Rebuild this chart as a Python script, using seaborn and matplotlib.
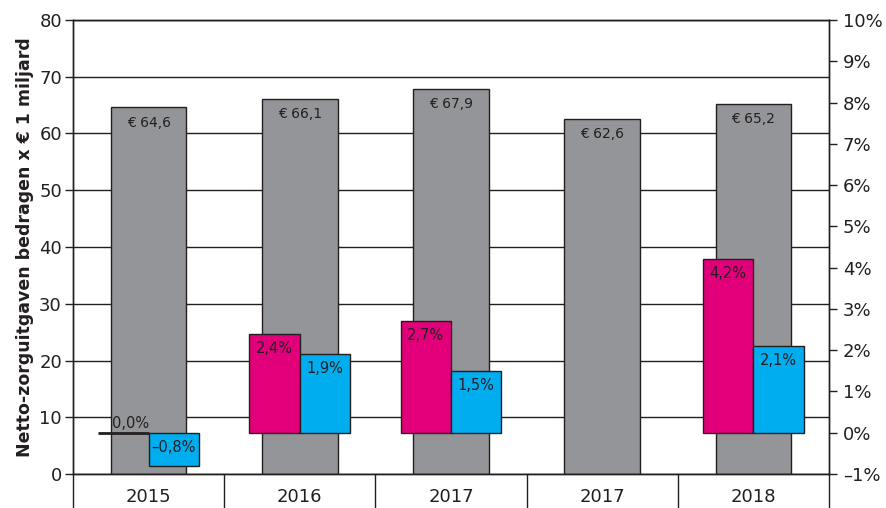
# Netto-zorguitgaven met groeipercentages, nagebouwd met seaborn

import numpy as np
import pandas as pd
import seaborn as sns
import matplotlib.pyplot as plt
from matplotlib.transforms import blended_transform_factory

# data uit de grafiek
jaren = ["2015", "2016", "2017", "2017", "2018"]
uitgaven = [64.6, 66.1, 67.9, 62.6, 65.2]
groei_roze = [0.0, 2.4, 2.7, np.nan, 4.2]
groei_blauw = [-0.8, 1.9, 1.5, np.nan, 2.1]
links_ticks = list(range(0, 81, 10))
rechts_ticks = list(range(-1, 11))

GRIJS = "#939598"
ROZE = "#e2007a"
BLAUW = "#00aeef"
INKT = "#231f20"


def nl_getal(v, teken=""):
    return (f"{v:.1f}" + teken).replace(".", ",").replace("-", "\u2013")


sns.set_style("ticks")
plt.rcParams["font.family"] = ["DejaVu Sans"]

fig = plt.figure(figsize=(8.87, 5.08), dpi=100)
ax = fig.add_axes([73 / 887, 34 / 508, 756 / 887, 454 / 508])

pos = list(range(len(jaren)))
df_tot = pd.DataFrame({"pos": pos, "uitgaven": uitgaven})
sns.barplot(data=df_tot, x="pos", y="uitgaven", order=pos, color=GRIJS, width=0.5,
            edgecolor=INKT, linewidth=1, saturation=1, errorbar=None, ax=ax)

# groeicijfers op de rechter as
ax2 = ax.twinx()
df_groei = pd.DataFrame({"pos": pos * 2,
                         "groei": groei_roze + groei_blauw,
                         "reeks": ["roze"] * len(pos) + ["blauw"] * len(pos)})
sns.barplot(data=df_groei, x="pos", y="groei", hue="reeks", order=pos,
            hue_order=["roze", "blauw"], palette=[ROZE, BLAUW], width=2 / 3,
            edgecolor=INKT, linewidth=1, saturation=1, errorbar=None,
            legend=False, ax=ax2)

# een balk van 0,0% wordt als dikke lijn getekend
for patch in ax2.patches:
    if patch.get_height() == 0:
        patch.set_linewidth(2)

ax.set_xlim(-0.5, len(pos) - 0.5)
ax.set_ylim(0, 80)
ax2.set_ylim(-1, 10)

# labels in de grijze balken
for i, v in enumerate(uitgaven):
    ax.annotate("\u20ac " + nl_getal(v), (i, v), xytext=(0, -6), textcoords="offset points",
                ha="center", va="top", fontsize=10, color=INKT)

# labels in de gekleurde balken
for reeks, waarden, dx in [("roze", groei_roze, -1 / 6), ("blauw", groei_blauw, 1 / 6)]:
    for i, v in enumerate(waarden):
        if np.isnan(v):
            continue
        if v == 0:
            ax2.annotate(nl_getal(v, "%"), (i + dx, 0), xytext=(5, 1), textcoords="offset points",
                         ha="center", va="bottom", fontsize=10.5, color=INKT)
        else:
            ax2.annotate(nl_getal(v, "%"), (i + dx, max(v, 0)), xytext=(0, -5),
                         textcoords="offset points", ha="center", va="top",
                         fontsize=10.5, color=INKT)

# assen en rasterlijnen
ax.set_axisbelow(True)
ax.grid(axis="y", color=INKT, linewidth=1)
ax.grid(axis="x", visible=False)
ax.set_yticks(links_ticks)
ax.set_xticks(pos)
ax.set_xticklabels(jaren)
ax.tick_params(axis="y", length=6, width=1, color=INKT, labelsize=13, labelcolor=INKT, pad=2)
ax.tick_params(axis="x", length=0, labelsize=13, labelcolor=INKT, pad=10)
ax.set_xlabel("")
ax.set_ylabel("Netto-zorguitgaven bedragen x \u20ac 1 miljard", fontsize=12.5,
              fontweight="bold", color=INKT, labelpad=4)

ax2.set_yticks(rechts_ticks)
ax2.set_yticklabels([f"{t}%".replace("-", "\u2013") for t in rechts_ticks])
ax2.tick_params(axis="y", length=6, width=1, color=INKT, labelsize=13, labelcolor=INKT, pad=4)
ax2.set_ylabel("")

for a in (ax, ax2):
    for spine in a.spines.values():
        spine.set_visible(True)
        spine.set_color(INKT)
        spine.set_linewidth(1)

# scheidingslijnen tussen de jaren onder de as
trans = blended_transform_factory(ax.transData, ax.transAxes)
for b in np.arange(-0.5, len(pos), 1.0):
    ax.plot([b, b], [0, -0.08], transform=trans, color=INKT, linewidth=1, clip_on=False)

plt.savefig("out.png", dpi=100)
